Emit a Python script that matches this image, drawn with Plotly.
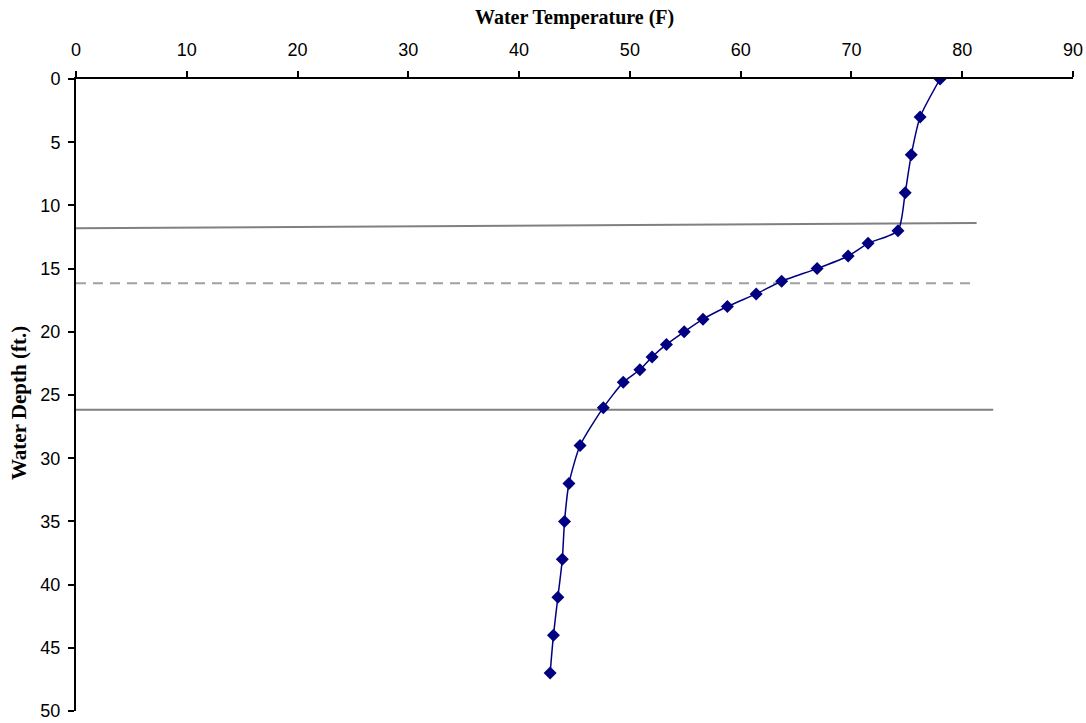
import plotly.graph_objects as go

temps = [78.0, 76.2, 75.4, 74.85, 74.2, 71.5, 69.7, 66.9, 63.7, 61.4, 58.8, 56.6, 54.9,
         53.3, 52.0, 50.9, 49.4, 47.6, 45.5, 44.5, 44.1, 43.9, 43.5, 43.1, 42.8]
depths = [0, 3, 6, 9, 12, 13, 14, 15, 16, 17, 18, 19, 20,
          21, 22, 23, 24, 26, 29, 32, 35, 38, 41, 44, 47]

# reference lines: (x0, y0, x1, y1, dash, colour)
ref_lines = [
    (0, 11.81, 81.3, 11.39, "solid", "#808080"),
    (0, 16.16, 81.2, 16.16, "dash", "#a0a0a0"),
    (0, 26.16, 82.8, 26.16, "solid", "#808080"),
]

x_ticks = list(range(0, 91, 10))
y_ticks = list(range(0, 51, 5))

x_title = "Water Temperature (F)"
y_title = "Water Depth (ft.)"

fig = go.Figure()
fig.add_trace(go.Scatter(
    x=temps, y=depths, mode="lines+markers",
    line=dict(color="#000080", width=1.5, shape="spline", smoothing=0.6),
    marker=dict(symbol="diamond", size=10, color="#000080"),
    showlegend=False, hoverinfo="x+y",
))

for x0, y0, x1, y1, dash, col in ref_lines:
    fig.add_shape(type="line", xref="x", yref="y", x0=x0, y0=y0, x1=x1, y1=y1,
                  line=dict(color=col, width=2, dash="10px,7px" if dash == "dash" else "solid"),
                  layer="below")

title_font = dict(family="Liberation Serif, Times New Roman", size=20, color="black")
fig.add_annotation(text="<b>" + x_title + "</b>", xref="paper", yref="paper",
                   x=0.5, y=1, xanchor="center", yanchor="middle", yshift=62,
                   showarrow=False, font=title_font)
fig.add_annotation(text="<b>" + y_title + "</b>", xref="paper", yref="paper",
                   x=0, y=0.5, xanchor="center", yanchor="middle", xshift=-57, yshift=-8,
                   textangle=-90, showarrow=False, font=dict(title_font, size=21))

fig.update_layout(
    width=1086, height=723,
    margin=dict(l=76, r=13, t=79, b=12),
    plot_bgcolor="white", paper_bgcolor="white",
    font=dict(family="Liberation Sans, Arial", size=18, color="black"),
)
fig.update_xaxes(
    side="top", range=[0, 90], tickvals=x_ticks, ticktext=[str(v) for v in x_ticks],
    showgrid=False, zeroline=False, showline=True, linecolor="black", linewidth=2,
    ticks="outside", ticklen=6, tickwidth=2, tickcolor="black", automargin=False,
    ticklabelstandoff=8,
)
fig.update_yaxes(
    range=[50, 0], tickvals=y_ticks, ticktext=[str(v) for v in y_ticks],
    showgrid=False, zeroline=False, showline=True, linecolor="black", linewidth=2,
    ticks="outside", ticklen=6, tickwidth=2, tickcolor="black", automargin=False,
    ticklabelstandoff=4,
)

fig.write_html("out.html")
